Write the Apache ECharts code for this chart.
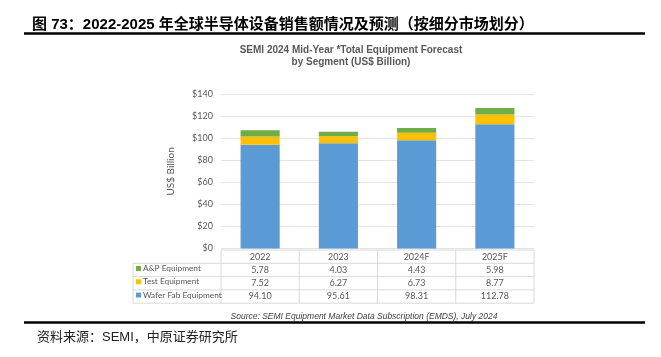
<!DOCTYPE html>
<html>
<head>
<meta charset="utf-8">
<script src="https://cdn.jsdelivr.net/npm/echarts@6/dist/echarts.min.js"></script>
<style>
html,body{margin:0;padding:0;background:#fff;}
#chart{width:661px;height:357px;}
</style>
</head>
<body>
<div id="chart"></div>
<script>
// ---- data ----
var categories = ['2022', '2023', '2024F', '2025F'];
var waferFab = [94.10, 95.61, 98.31, 112.78];
var testEquip = [7.52, 6.27, 6.73, 8.77];
var apEquip = [5.78, 4.03, 4.43, 5.98];
var seriesNames = ['Wafer Fab Equipment', 'Test Equipment', 'A&P Equipment'];
var tableRowNames = ['A&P Equipment', 'Test Equipment', 'Wafer Fab Equipment'];
var yTicks = [0, 20, 40, 60, 80, 100, 120, 140];

// ---- style ----
var colors = {'Wafer Fab Equipment': '#5B9BD5', 'Test Equipment': '#FFC000', 'A&P Equipment': '#70AD47'};
var gridL = 221, gridR = 534, gridT = 94.3, gridB = 248.5;
var rowH = 13.3;
var tableTop = 250, tableLeft = 133;
var lineColor = '#d9d9d9';
var txt = '#595959';

var chart = echarts.init(document.getElementById('chart'));

function fmt(arr) { return arr.map(function (v) { return v.toFixed(2); }); }
var rowData = [fmt(apEquip), fmt(testEquip), fmt(waferFab)];

var xAxes = [{
  type: 'category', data: categories, gridIndex: 0, position: 'bottom',
  axisLine: {show: false}, axisTick: {show: false},
  axisLabel: {color: txt, fontFamily: 'Lato', fontSize: 9, margin: tableTop - gridB + rowH / 2, verticalAlign: 'middle'}
}];
rowData.forEach(function (row, i) {
  xAxes.push({
    type: 'category', data: row, gridIndex: 0, position: 'bottom', offset: rowH * (i + 1),
    axisLine: {show: false}, axisTick: {show: false},
    axisLabel: {color: txt, fontFamily: 'Lato', fontSize: 9, margin: tableTop - gridB + rowH / 2, verticalAlign: 'middle'}
  });
});

// table lines
var graphics = [];
var nCols = categories.length;
var colW = (gridR - gridL) / nCols;
var tableBottom = tableTop + rowH * 4;
graphics.push({type: 'line', shape: {x1: gridL, y1: tableTop, x2: gridR, y2: tableTop}, style: {stroke: lineColor, lineWidth: 1}});
for (var r = 1; r <= 4; r++) {
  var yy = tableTop + rowH * r;
  graphics.push({type: 'line', shape: {x1: tableLeft, y1: yy, x2: gridR, y2: yy}, style: {stroke: lineColor, lineWidth: 1}});
}
graphics.push({type: 'line', shape: {x1: tableLeft, y1: tableTop + rowH, x2: tableLeft, y2: tableBottom}, style: {stroke: lineColor, lineWidth: 1}});
for (var c = 0; c <= nCols; c++) {
  var xx = gridL + colW * c;
  graphics.push({type: 'line', shape: {x1: xx, y1: tableTop, x2: xx, y2: tableBottom}, style: {stroke: lineColor, lineWidth: 1}});
}
// black rules
graphics.push({type: 'line', shape: {x1: 24, y1: 33.5, x2: 645, y2: 33.5}, style: {stroke: '#000', lineWidth: 2.5}});
graphics.push({type: 'line', shape: {x1: 24, y1: 322.5, x2: 645, y2: 322.5}, style: {stroke: '#000', lineWidth: 2.5}});

var legends = tableRowNames.map(function (name, i) {
  return {
    data: [name], left: tableLeft + 3, top: tableTop + rowH * (i + 1) + rowH / 2 - 5.5,
    padding: 0, icon: 'rect', itemWidth: 5, itemHeight: 5, itemGap: 3,
    selectedMode: false,
    textStyle: {color: txt, fontFamily: 'Lato', fontSize: 8.3, padding: [0, 0, 0, -3]}
  };
});

var valuesBySeries = {'Wafer Fab Equipment': waferFab, 'Test Equipment': testEquip, 'A&P Equipment': apEquip};

chart.setOption({
  animation: false,
  backgroundColor: '#fff',
  title: [
    {text: '图 73：2022-2025 年全球半导体设备销售额情况及预测（按细分市场划分）', left: 27, top: 12,
     textStyle: {fontFamily: '"Liberation Sans","Noto Sans CJK SC"', fontWeight: 'bold', fontSize: 15, color: '#000'}},
    {text: 'SEMI 2024 Mid-Year *Total Equipment Forecast\nby Segment (US$ Billion)', left: 346, textAlign: 'center', top: 39,
     textStyle: {fontFamily: 'Liberation Sans', fontWeight: 'bold', fontSize: 10, lineHeight: 12, color: txt}},
    {text: 'Source: SEMI Equipment Market Data Subscription (EMDS), July 2024', left: 359, textAlign: 'center', top: 307,
     textStyle: {fontFamily: 'Liberation Sans', fontStyle: 'italic', fontWeight: 'normal', fontSize: 8.5, color: '#404040'}},
    {text: '资料来源：SEMI，中原证券研究所', left: 32, top: 326,
     textStyle: {fontFamily: '"Liberation Sans","Noto Sans CJK SC"', fontWeight: 'normal', fontSize: 13, color: '#222'}}
  ],
  legend: legends,
  grid: {left: gridL, right: 661 - gridR, top: gridT, bottom: 357 - gridB, containLabel: false},
  xAxis: xAxes,
  yAxis: {
    type: 'value', min: yTicks[0], max: yTicks[yTicks.length - 1], interval: 20,
    name: 'US$ Billion', nameLocation: 'middle', nameGap: 45, nameRotate: 90,
    nameTextStyle: {color: txt, fontFamily: 'Lato', fontSize: 10},
    axisLine: {show: false}, axisTick: {show: false},
    axisLabel: {color: txt, fontFamily: 'Lato', fontSize: 9, margin: 8, formatter: function (v) { return '$' + v; }},
    splitLine: {lineStyle: {color: '#e3e3e3', width: 1}}
  },
  series: seriesNames.map(function (name) {
    return {
      name: name, type: 'bar', stack: 'total', data: valuesBySeries[name], barWidth: '50%',
      xAxisIndex: 0, itemStyle: {color: colors[name]}, emphasis: {disabled: true}
    };
  }),
  graphic: graphics
});
</script>
</body>
</html>
